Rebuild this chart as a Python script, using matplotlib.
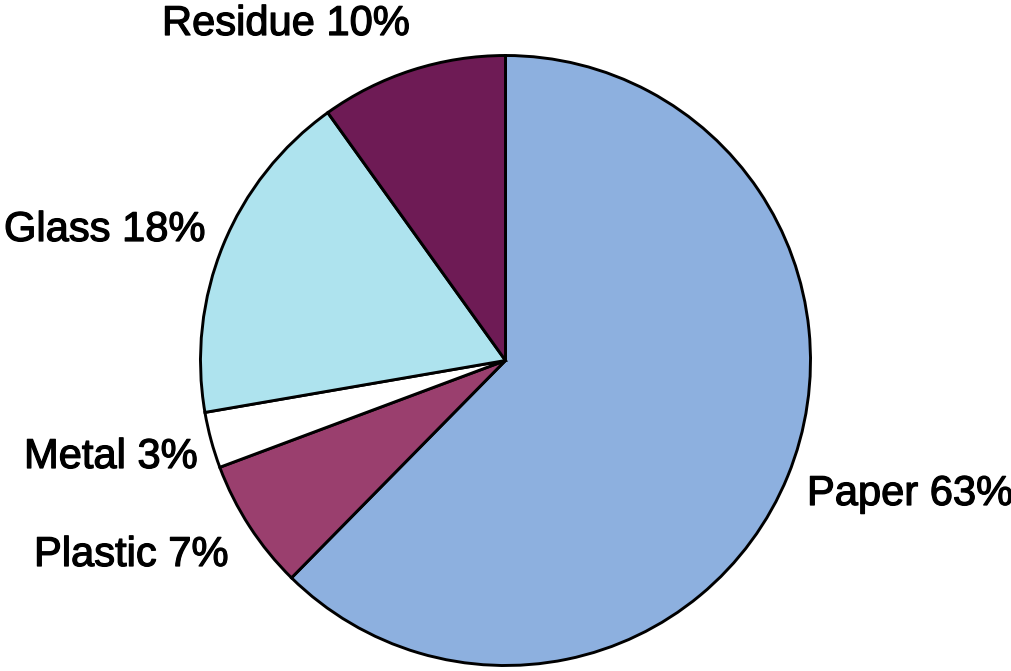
import matplotlib
matplotlib.use("Agg")
import matplotlib.pyplot as plt
import matplotlib.patheffects as pe

# Waste composition (percent)
categories = ["Paper", "Plastic", "Metal", "Glass", "Residue"]
values = [63, 7, 3, 18, 10]
colors = ["#8DB0DF", "#9A3F6E", "#FFFFFF", "#AEE3EE", "#6E1B55"]

W, H = 1012, 671
fig = plt.figure(figsize=(W / 100, H / 100), dpi=100)
ax = fig.add_axes([0, 0, 1, 1])

cx, cy, r = 505.5, H - 360.5, 305
ax.pie(values, colors=colors, startangle=90, counterclock=False,
       center=(cx, cy), radius=r, frame=True,
       wedgeprops=dict(edgecolor="black", linewidth=2.1))
ax.set_xlim(0, W)
ax.set_ylim(0, H)
ax.set_aspect("equal")
ax.axis("off")

# label anchor points (left edge, vertical centre), in pixels from the top-left
label_pos = {
    "Paper": (807, 494),
    "Plastic": (34, 555),
    "Metal": (24, 457),
    "Glass": (4, 230),
    "Residue": (162, 24),
}
for name, val in zip(categories, values):
    x, y = label_pos[name]
    ax.text(x, H - y, f"{name} {val}%", ha="left", va="center",
            fontsize=30, family="Liberation Sans", color="black",
            path_effects=[pe.withStroke(linewidth=0.9, foreground="black")])

fig.savefig("out.png", dpi=100)
